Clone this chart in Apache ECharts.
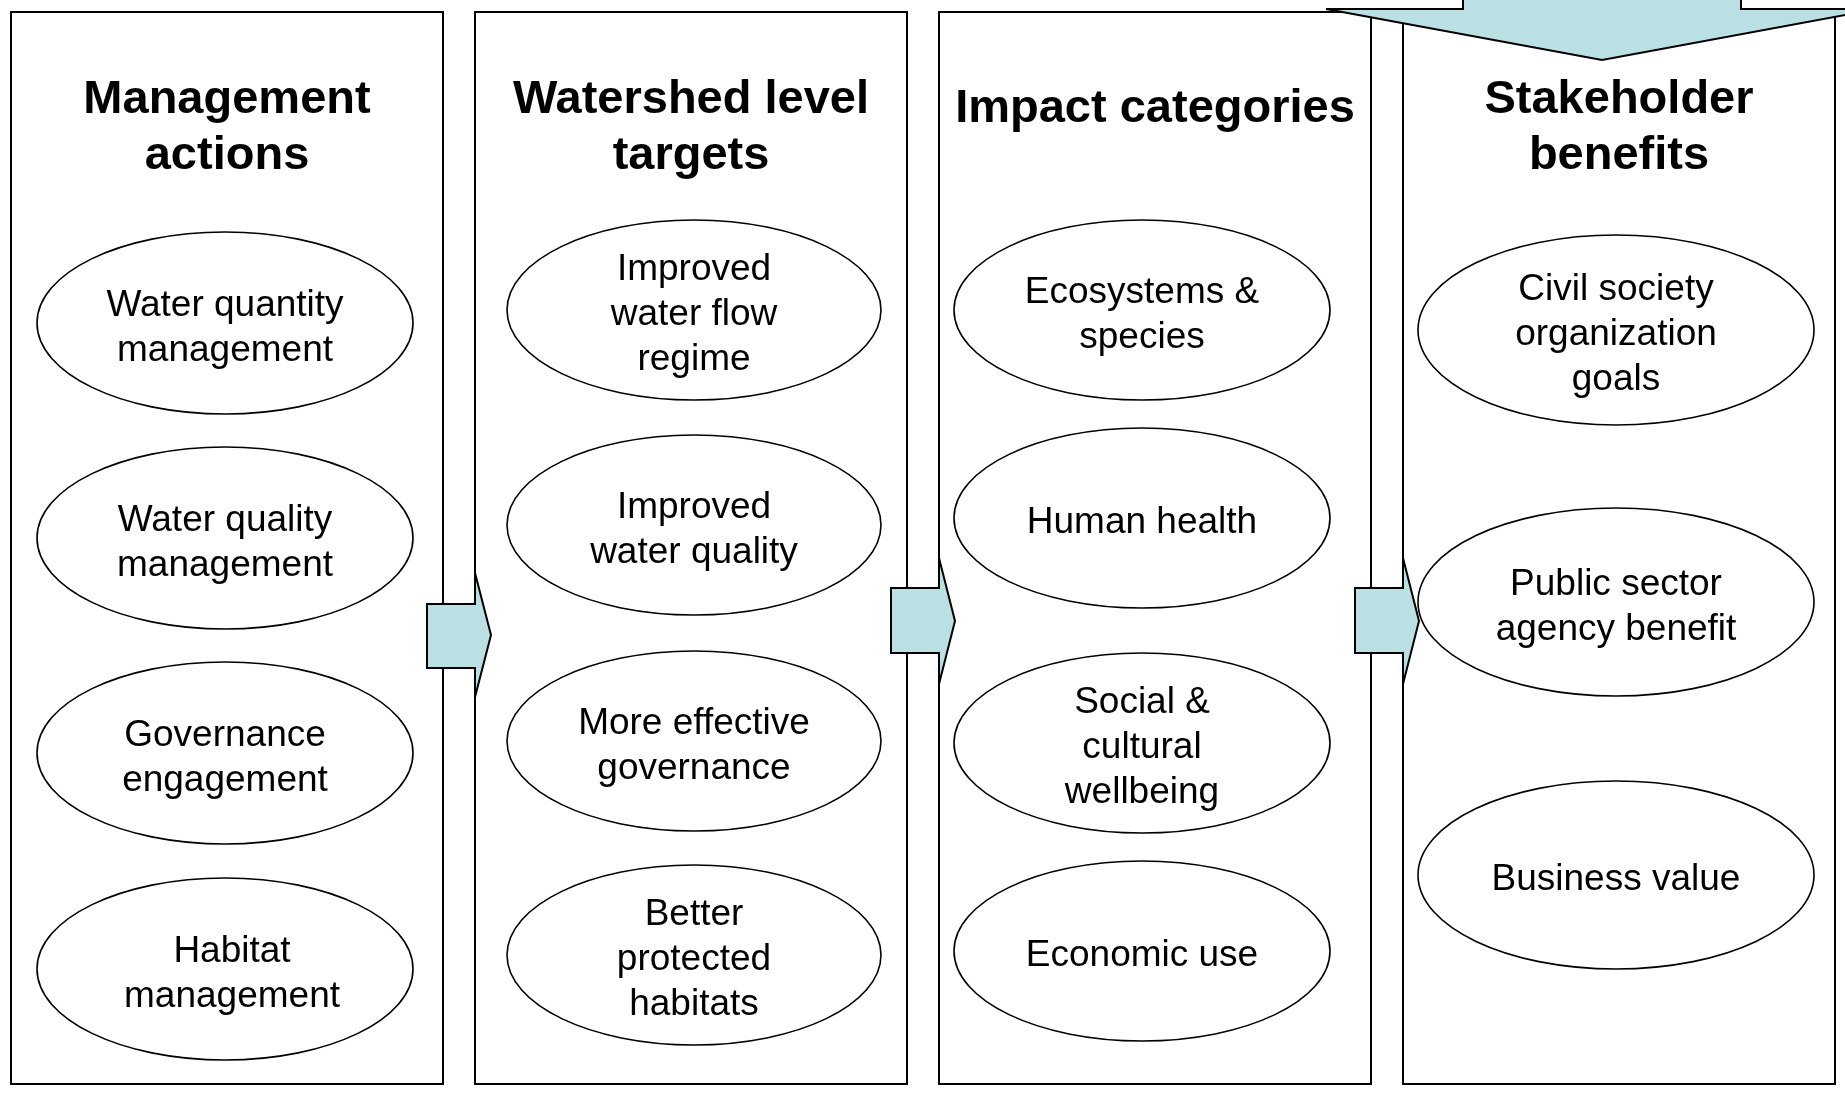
<!DOCTYPE html>
<html lang="en">
<head>
<meta charset="UTF-8">
<title>Watershed actions to stakeholder benefits</title>
<script src="https://cdn.jsdelivr.net/npm/echarts@6/dist/echarts.min.js"></script>
<style>
  html, body { margin: 0; padding: 0; background: #fff; }
  #chart { width: 1845px; height: 1095px; }
</style>
</head>
<body>
<div id="chart"></div>
<script>
// column headings
const columnTitles = ['Management\nactions', 'Watershed level\ntargets', 'Impact categories', 'Stakeholder\nbenefits'];

// ellipse labels, one list per column
const managementActions = ['Water quantity\nmanagement', 'Water quality\nmanagement', 'Governance\nengagement', 'Habitat\nmanagement'];
const watershedTargets = ['Improved\nwater flow\nregime', 'Improved\nwater quality', 'More effective\ngovernance', 'Better\nprotected\nhabitats'];
const impactCategories = ['Ecosystems &\nspecies', 'Human health', 'Social &\ncultural\nwellbeing', 'Economic use'];
const stakeholderBenefits = ['Civil society\norganization\ngoals', 'Public sector\nagency benefit', 'Business value'];
const columnItems = [managementActions, watershedTargets, impactCategories, stakeholderBenefits];

// layout, in px of the 1845 x 1095 frame
const boxLeft = [11, 475, 939, 1403];
const boxWidth = 432;
const boxTop = 12;
const boxBottom = 1084;
const titleY = [128, 128, 109, 128];
const ellipseX = [225, 694, 1142, 1616];
const ellipseRx = [188, 187, 188, 198];
const ellipseY = [[323, 538, 753, 969], [310, 525, 741, 955], [310, 518, 743, 951], [330, 602, 875]];
const ellipseRy = [[91, 91, 91, 91], [90, 90, 90, 90], [90, 90, 90, 90], [95, 94, 94]];
const labelDx = [[0, 0, 0, 7], [0, 0, 0, 0], [0, 0, 0, 0], [0, 0, 0, 0]];

// side arrows: shaft left, shaft right, shaft top, shaft bottom, head top, head bottom, tip x
const sideArrows = [
  [427, 475, 604, 668, 573, 697, 491],
  [891, 939, 588, 653, 558, 684, 955],
  [1355, 1403, 588, 653, 558, 684, 1419]
];
// top arrow: shaft left, shaft right, head y, head left, head right, tip y
const topArrow = [1463, 1741, 9, 1326, 1878, 60];

const ARROW_FILL = '#BBE0E3';
const FONT = '"Liberation Sans", Arial, Helvetica, sans-serif';

const chart = echarts.init(document.getElementById('chart'));

const boxData = columnTitles.map((t, i) => [i, 0]);
const ellipseData = [];
columnItems.forEach((items, c) => items.forEach((label, r) => ellipseData.push([c, r])));
const arrowData = sideArrows.map((a, i) => [i, 0]).concat([[3, 1]]);

function renderBox(params, api) {
  const i = api.value(0);
  const p0 = api.coord([boxLeft[i], boxTop]);
  const p1 = api.coord([boxLeft[i] + boxWidth, boxBottom]);
  const tc = api.coord([boxLeft[i] + boxWidth / 2, titleY[i]]);
  return {
    type: 'group',
    children: [
      {
        type: 'rect',
        shape: { x: p0[0], y: p0[1], width: p1[0] - p0[0], height: p1[1] - p0[1] },
        style: { fill: '#fff', stroke: '#000', lineWidth: 2 }
      },
      {
        type: 'text',
        style: {
          text: columnTitles[i], x: tc[0], y: tc[1],
          align: 'center', verticalAlign: 'middle',
          font: 'bold 47px ' + FONT, lineHeight: 56, fill: '#000'
        }
      }
    ]
  };
}

function renderEllipse(params, api) {
  const c = api.value(0);
  const r = api.value(1);
  const ctr = api.coord([ellipseX[c], ellipseY[c][r]]);
  const edge = api.coord([ellipseX[c] + ellipseRx[c], ellipseY[c][r] + ellipseRy[c][r]]);
  const tp = api.coord([ellipseX[c] + labelDx[c][r], ellipseY[c][r] + 5]);
  return {
    type: 'group',
    children: [
      {
        type: 'ellipse',
        shape: { cx: ctr[0], cy: ctr[1], rx: Math.abs(edge[0] - ctr[0]), ry: Math.abs(edge[1] - ctr[1]) },
        style: { fill: '#fff', stroke: '#000', lineWidth: 1.6 }
      },
      {
        type: 'text',
        style: {
          text: columnItems[c][r], x: tp[0], y: tp[1],
          align: 'center', verticalAlign: 'middle',
          font: '37px ' + FONT, lineHeight: 45, fill: '#000'
        }
      }
    ]
  };
}

function renderArrow(params, api) {
  const i = api.value(0);
  let pts;
  if (api.value(1) === 0) {
    const a = sideArrows[i];
    const mid = (a[4] + a[5]) / 2;
    pts = [[a[0], a[2]], [a[1], a[2]], [a[1], a[4]], [a[6], mid], [a[1], a[5]], [a[1], a[3]], [a[0], a[3]]];
  } else {
    const t = topArrow;
    const mid = (t[0] + t[1]) / 2;
    pts = [[t[0], -20], [t[1], -20], [t[1], t[2]], [t[4], t[2]], [mid, t[5]], [t[3], t[2]], [t[0], t[2]]];
  }
  return {
    type: 'polygon',
    shape: { points: pts.map(p => api.coord(p)) },
    style: { fill: ARROW_FILL, stroke: '#000', lineWidth: 2, lineJoin: 'miter' }
  };
}

chart.setOption({
  backgroundColor: '#fff',
  animation: false,
  grid: { left: 0, right: 0, top: 0, bottom: 0 },
  xAxis: { type: 'value', min: 0, max: 1845, show: false },
  yAxis: { type: 'value', min: 0, max: 1095, inverse: true, show: false },
  series: [
    { type: 'custom', silent: true, clip: false, renderItem: renderBox, data: boxData, z: 1 },
    { type: 'custom', silent: true, clip: false, renderItem: renderEllipse, data: ellipseData, z: 2 },
    { type: 'custom', silent: true, clip: false, renderItem: renderArrow, data: arrowData, z: 3 }
  ]
});

window.addEventListener('resize', function () {
  chart.resize();
});
</script>
</body>
</html>
